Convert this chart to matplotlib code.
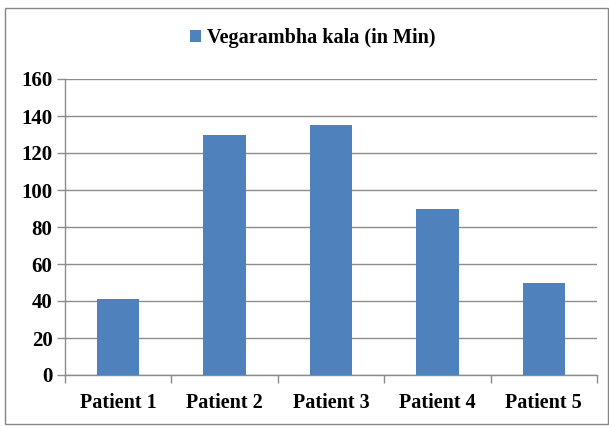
import matplotlib
matplotlib.use("Agg")
import matplotlib.pyplot as plt
from matplotlib.patches import Rectangle
import numpy as np

categories = ["Patient 1", "Patient 2", "Patient 3", "Patient 4", "Patient 5"]
values = [41, 130, 135, 90, 50]
series_name = "Vegarambha kala (in Min)"
y_ticks = [0, 20, 40, 60, 80, 100, 120, 140, 160]

plt.rcParams['font.family'] = ['Liberation Serif', 'DejaVu Serif']
plt.rcParams['font.weight'] = 'bold'

fig = plt.figure(figsize=(6.09, 4.26), dpi=100)
ax = fig.add_axes([65 / 609, 1 - 375 / 426, (597 - 65) / 609, (375 - 79) / 426])

x = np.arange(len(categories))
ax.bar(x, values, width=0.4, color='#4F81BD', zorder=3, label=series_name)

ax.set_xlim(-0.5, len(categories) - 0.5)
ax.set_ylim(0, 160)
ax.set_yticks(y_ticks)
ax.set_yticklabels([str(v) for v in y_ticks], fontsize=15, fontweight='bold')
ax.set_xticks(x)
ax.set_xticklabels(categories, fontsize=14.5, fontweight='bold')
ax.tick_params(axis='x', length=0, pad=13)
ax.set_xticks(np.arange(-0.5, len(categories)), minor=True)
ax.tick_params(axis='x', which='minor', length=6, color='#8C8C8C', width=1)
ax.tick_params(axis='y', length=6, color='#8C8C8C', width=1, pad=3)

ax.yaxis.grid(True, color='#8C8C8C', linewidth=1, zorder=0)
for side in ['top', 'right']:
    ax.spines[side].set_visible(False)
for side in ['left', 'bottom']:
    ax.spines[side].set_color('#8C8C8C')
    ax.spines[side].set_linewidth(1)

fig.legend(loc='center', bbox_to_anchor=(0.514, 0.911), frameon=False,
           prop={'family': 'Liberation Serif', 'weight': 'bold', 'size': 14.5},
           handlelength=0.55, handleheight=0.55, handletextpad=0.3)

# outer chart border
fig.patches.append(Rectangle((5 / 609, 2 / 426), 603 / 609, 416 / 426,
                             transform=fig.transFigure, fill=False,
                             edgecolor='#868686', linewidth=1))

fig.savefig('out.png', dpi=100)
